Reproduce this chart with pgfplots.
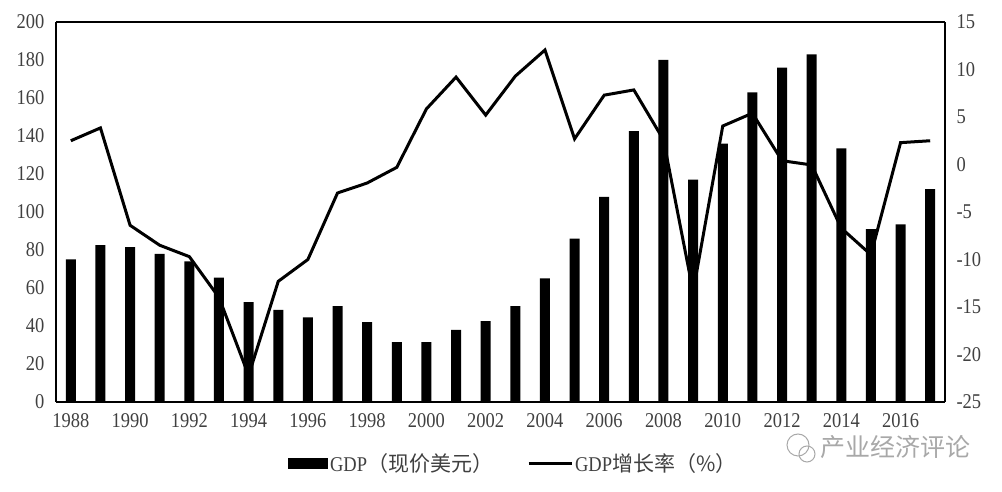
\documentclass[border=0pt]{standalone}
\usepackage{pgfplots}
\usepackage{fontspec}
\pgfplotsset{compat=1.18}
\setmainfont[FakeStretch=0.88]{Liberation Serif}
\newfontfamily\cjk{Noto Sans CJK SC}
\definecolor{txt}{HTML}{404040}
\definecolor{wm}{HTML}{A8A8A8}
\pgfplotstableread{
year gdp
1988 75
1989 82.5
1990 81.5
1991 78
1992 74
1993 65.5
1994 52.5
1995 48.5
1996 44.5
1997 50.5
1998 42
1999 31.5
2000 31.5
2001 38
2002 42.5
2003 50.5
2004 65
2005 86
2006 108
2007 142.5
2008 180
2009 117
2010 136
2011 163
2012 176
2013 183
2014 133.5
2015 91
2016 93.5
2017 112
}\gdptable
\pgfplotstableread{
year rate
1988 2.5
1989 3.85
1990 -6.4
1991 -8.5
1992 -9.7
1993 -14
1994 -22.2
1995 -12.3
1996 -10
1997 -3
1998 -1.95
1999 -0.3
2000 5.85
2001 9.2
2002 5.2
2003 9.3
2004 12.05
2005 2.7
2006 7.3
2007 7.85
2008 2.6
2009 -13.4
2010 4.05
2011 5.4
2012 0.4
2013 -0.05
2014 -6.7
2015 -9.5
2016 2.3
2017 2.5
}\ratetable
\begin{document}
\begin{tikzpicture}[x=1pt,y=1pt]
\path[use as bounding box] (0,0) rectangle (1002,492);
\begin{axis}[
  at={(56pt,90pt)},anchor=south west,
  scale only axis,width=889pt,height=380pt,
  xmin=1987.5,xmax=2017.5,ymin=0,ymax=200,
  axis y line*=left,axis x line*=bottom,
  axis line style={black,line width=1.2pt,-},
  xtick={1988,1990,...,2016},
  x tick label style={/pgf/number format/1000 sep={},yshift=-8pt},
  y tick label style={xshift=-8pt},
  ytick={0,20,...,200},
  tick style={draw=none},
  tick label style={font=\fontsize{21}{21}\selectfont,text=txt},
  /pgf/number format/assume math mode=true,
]
\addplot[ybar,bar width=10pt,fill=black,draw=none] table[x=year,y=gdp] {\gdptable};
\end{axis}
\begin{axis}[
  at={(56pt,90pt)},anchor=south west,
  scale only axis,width=889pt,height=380pt,
  xmin=1987.5,xmax=2017.5,ymin=-25,ymax=15,
  axis y line*=right,axis x line*=top,
  axis line style={black,line width=1.2pt,-},
  xtick=\empty,
  ytick={-25,-20,...,15},
  y tick label style={xshift=8pt},
  tick style={draw=none},
  tick label style={font=\fontsize{21}{21}\selectfont,text=txt},
  /pgf/number format/assume math mode=true,
  legend style={at={(0.513,-0.13)},anchor=north,draw=none,fill=none,legend columns=2,
    font=\fontsize{21}{21}\selectfont\color{txt},
    nodes={inner sep=0pt},
    /tikz/every even column/.append style={column sep=34pt}},
  legend cell align=left,
]
\addlegendimage{legend image code/.code={\fill[black] (1pt,-5pt) rectangle (40pt,5pt);}}
\addlegendentry{\hspace{3pt}GDP{\cjk（现价美元）}}
\addplot[line width=3pt,black,line join=miter,sharp plot,
  legend image code/.code={\draw[black,line width=3pt] (-3pt,0pt) -- (40pt,0pt);}] table[x=year,y=rate] {\ratetable};
\addlegendentry{\hspace{2pt}GDP{\cjk 增长率（\%）}}
\end{axis}
\node[anchor=west,inner sep=0pt,text=wm,font=\cjk\fontsize{25}{25}\selectfont] at (820,45) {产业经济评论};
\draw[wm,line width=1pt] (798,47) circle (11pt);
\draw[wm,line width=1pt] (807,38) circle (8pt);
\end{tikzpicture}
\end{document}
